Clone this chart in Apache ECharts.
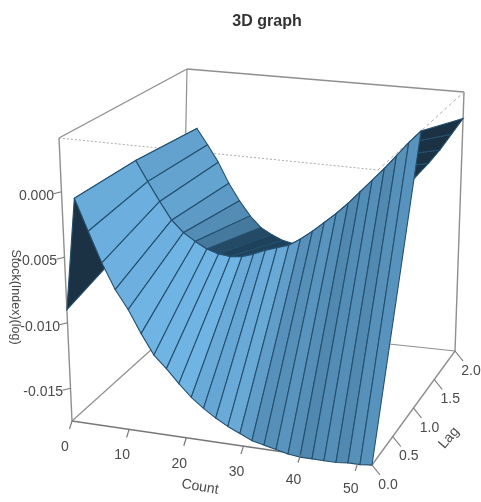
<!DOCTYPE html>
<html>
<head>
<meta charset="utf-8">
<style>html,body{margin:0;padding:0;background:#fff}#c{width:481px;height:502px;filter:blur(0.45px)}</style>
<script src="https://cdn.jsdelivr.net/npm/echarts@6/dist/echarts.min.js"></script>
</head>
<body>
<div id="c"></div>
<script>
// ---- data ----
const counts = [0,2.1,4.2,6.3,8.4,10.5,12.6,14.7,16.8,18.9,21,23.1,25.2,27.3,29.4,31.5,33.6,35.7,37.8,39.9,42,44.1,46.2,48.3,50.4,52.5];
const lags = [0,1,2];
const zLag0 = [-.0090,-.0004,-.0028,-.0051,-.0070,-.0084,-.0101,-.0116,-.0125,-.0135,-.0144,-.0151,-.0157,-.0162,-.0166,-.0170,-.0172,-.0174,-.0176,-.0177,-.0177,-.0177,-.0177,-.0176,-.0176,-.0175];
const zLag1 = [-.0074,-.0004,-.0020,-.0035,-.0049,-.0058,-.0064,-.0069,-.0072,-.0073,-.0072,-.0069,-.0065,-.0062,-.0059,-.0053,-.0046,-.0038,-.0030,-.0021,-.0011,-.0001,.0009,.0020,.0031,.0041];
const zLag2 = [-.0058,-.0009,-.0022,-.0036,-.0053,-.0067,-.0079,-.0088,-.0093,-.0097,-.0099,-.0099,-.0098,-.0095,-.0091,-.0086,-.0080,-.0073,-.0065,-.0056,-.0044,-.0032,-.0021,-.0009,.0005,.0019];
const countTicks = [0,10,20,30,40,50];
const lagTicks = [0,0.5,1,1.5,2];
const zTicks = [0,-0.005,-0.01,-0.015];
const zTickLabels = ['0.000','-0.005','-0.010','-0.015'];
const titleText = '3D graph', countName = 'Count', lagName = 'Lag', zName = 'Stock(Index)(log)';

// ---- view of the box (scene units = pixels of the photographed scene) ----
const zMin = -0.0175, zMax = 0.0041, countMax = 52.5, lagMax = 2;
const view = {
  b00:[72,421], b10:[372,465], b01:[182,322], b11:[455,351],
  t00:[59,138], t10:[378,170], t01:[187,69],  t11:[464,92]
};
function mix(a,b,t){return [a[0]+(b[0]-a[0])*t,a[1]+(b[1]-a[1])*t];}
function project(c,l,z){
  const u=c/countMax,v=l/lagMax,w=(z-zMin)/(zMax-zMin);
  const b=mix(mix(view.b00,view.b10,u),mix(view.b01,view.b11,u),v);
  const t=mix(mix(view.t00,view.t10,u),mix(view.t01,view.t11,u),v);
  return mix(b,t,w);
}
const grid3 = [zLag0,zLag1,zLag2];

// ---- quads, far to near ----
const quads=[];
for(let i=0;i<counts.length-1;i++) for(let j=lags.length-2;j>=0;j--) quads.push([i,j]);

const dark=[30,66,92], light=[112,180,228], under=[27,50,68];
function quadColor(i,j,pts){
  let area=0;
  for(let k=0;k<4;k++){const p=pts[k],q=pts[(k+1)%4];area+=p[0]*q[1]-q[0]*p[1];}
  const du=1/(counts.length-1), dv=1/(lags.length-1);
  const span=zMax-zMin;
  const dzc=((grid3[j][i+1]+grid3[j+1][i+1])-(grid3[j][i]+grid3[j+1][i]))/2/span/du;
  const dzl=((grid3[j+1][i]+grid3[j+1][i+1])-(grid3[j][i]+grid3[j][i+1]))/2/span/dv;
  const n=Math.hypot(dzc,dzl,1);
  const raw=Math.max(0,Math.min(1,((-dzc*.55+dzl*.65+.1)/n-.2)/.4));
  const t=Math.pow(raw,.7);
  const col=dark.map((d,k)=>Math.round(d+(light[k]-d)*t));
  return {area,col:'rgb('+col.join(',')+')'};
}
function P(api,c,l,z){return api.coord(project(c,l,z));}
const axisColor='#8f8f8f', textColor='#4a4a4a';

function seg(a,b,stroke,w,dash){
  return {type:'line',shape:{x1:a[0],y1:a[1],x2:b[0],y2:b[1]},style:{stroke:stroke,lineWidth:w,lineDash:dash||null}};
}
function label(p,s,font,rot){
  return {type:'text',x:p[0],y:p[1],rotation:rot||0,style:{text:s,x:0,y:0,align:'center',verticalAlign:'middle',fill:textColor,font:font}};
}
const tickFont='14px "Liberation Sans",Arial,sans-serif';

const chart=echarts.init(document.getElementById('c'),null,{renderer:'canvas'});
chart.setOption({
  animation:false,
  backgroundColor:'#fff',
  title:{text:titleText,left:262,top:9,textAlign:'center',textStyle:{fontSize:16,fontWeight:'bold',color:'#333',fontFamily:'"Liberation Sans",Arial,sans-serif'}},
  grid:{left:0,right:0,top:0,bottom:0},
  xAxis:{type:'value',min:0,max:481,show:false},
  yAxis:{type:'value',min:0,max:502,inverse:true,show:false},
  tooltip:{show:false},
  series:[
    { // box behind the surface
      type:'custom',silent:true,clip:false,data:[[0,0]],z:1,
      renderItem(p,api){
        const c=(a,b,z)=>P(api,a,b,z);
        const m=countMax,l=lagMax,lo=zMin,hi=zMax,g=axisColor;
        return {type:'group',children:[
          seg(c(0,0,hi),c(0,l,hi),g,1.4),
          seg(c(0,l,hi),c(m,l,hi),g,1.4),
          seg(c(0,0,hi),c(0,0,lo),g,1.4),
          seg(c(m,l,hi),c(m,l,lo),g,1.4),
          seg(c(0,l,hi),c(0,l,lo),g,1.2),
          seg(c(0,0,lo),c(0,l,lo),g,1.2),
          seg(c(0,l,lo),c(m,l,lo),g,1.2),
          seg(c(0,0,lo),c(m,0,lo),'#777',1.4),
          seg(c(m,0,lo),c(m,l,lo),g,1.4),
          seg(c(0,0,hi),c(m,0,hi),'#aaa',1,[2,2]),
          seg(c(m,0,hi),c(m,l,hi),'#aaa',1,[3,3])
        ]};
      }
    },
    { // surface
      type:'custom',silent:true,clip:false,z:2,data:quads,
      renderItem(p,api){
        const i=api.value(0),j=api.value(1);
        const pts=[
          P(api,counts[i],lags[j],grid3[j][i]),
          P(api,counts[i+1],lags[j],grid3[j][i+1]),
          P(api,counts[i+1],lags[j+1],grid3[j+1][i+1]),
          P(api,counts[i],lags[j+1],grid3[j+1][i])
        ];
        const q=quadColor(i,j,pts);
        const fill=q.area>0?'rgb('+under.join(',')+')':q.col;
        return {type:'polygon',shape:{points:pts},style:{fill:fill,stroke:'#24506f',lineWidth:1.1}};
      }
    },
    { // ticks and labels
      type:'custom',silent:true,clip:false,z:3,data:[[0,0]],
      renderItem(p,api){
        const kids=[];
        const off=(a,dx,dy)=>[a[0]+dx,a[1]+dy];
        countTicks.forEach(c=>{
          const a=P(api,c,0,zMin);
          kids.push(seg(a,off(a,-2.5,8),'#777',1.2));
          kids.push(label(off(a,-7,26),String(c),tickFont));
        });
        lagTicks.forEach(l=>{
          const a=P(api,countMax,l,zMin);
          kids.push(seg(a,off(a,8,10),'#777',1.2));
          kids.push(label(off(a,16,20),l.toFixed(1),tickFont));
        });
        zTicks.forEach((z,k)=>{
          const a=P(api,0,0,z);
          kids.push(seg(a,off(a,-8,2),'#777',1.2));
          const b=off(a,-7.5,4);
          kids.push({type:'text',x:b[0],y:b[1],style:{text:zTickLabels[k],x:0,y:0,align:'right',verticalAlign:'middle',fill:textColor,font:tickFont}});
        });
        kids.push(label(api.coord([200,487]),countName,tickFont,-0.16));
        kids.push(label(api.coord([449,438]),lagName,tickFont,0.85));
        kids.push(label(api.coord([15,297]),zName,'12.5px "Liberation Sans",Arial,sans-serif',-Math.PI/2));
        return {type:'group',children:kids};
      }
    }
  ]
});
</script>
</body>
</html>
